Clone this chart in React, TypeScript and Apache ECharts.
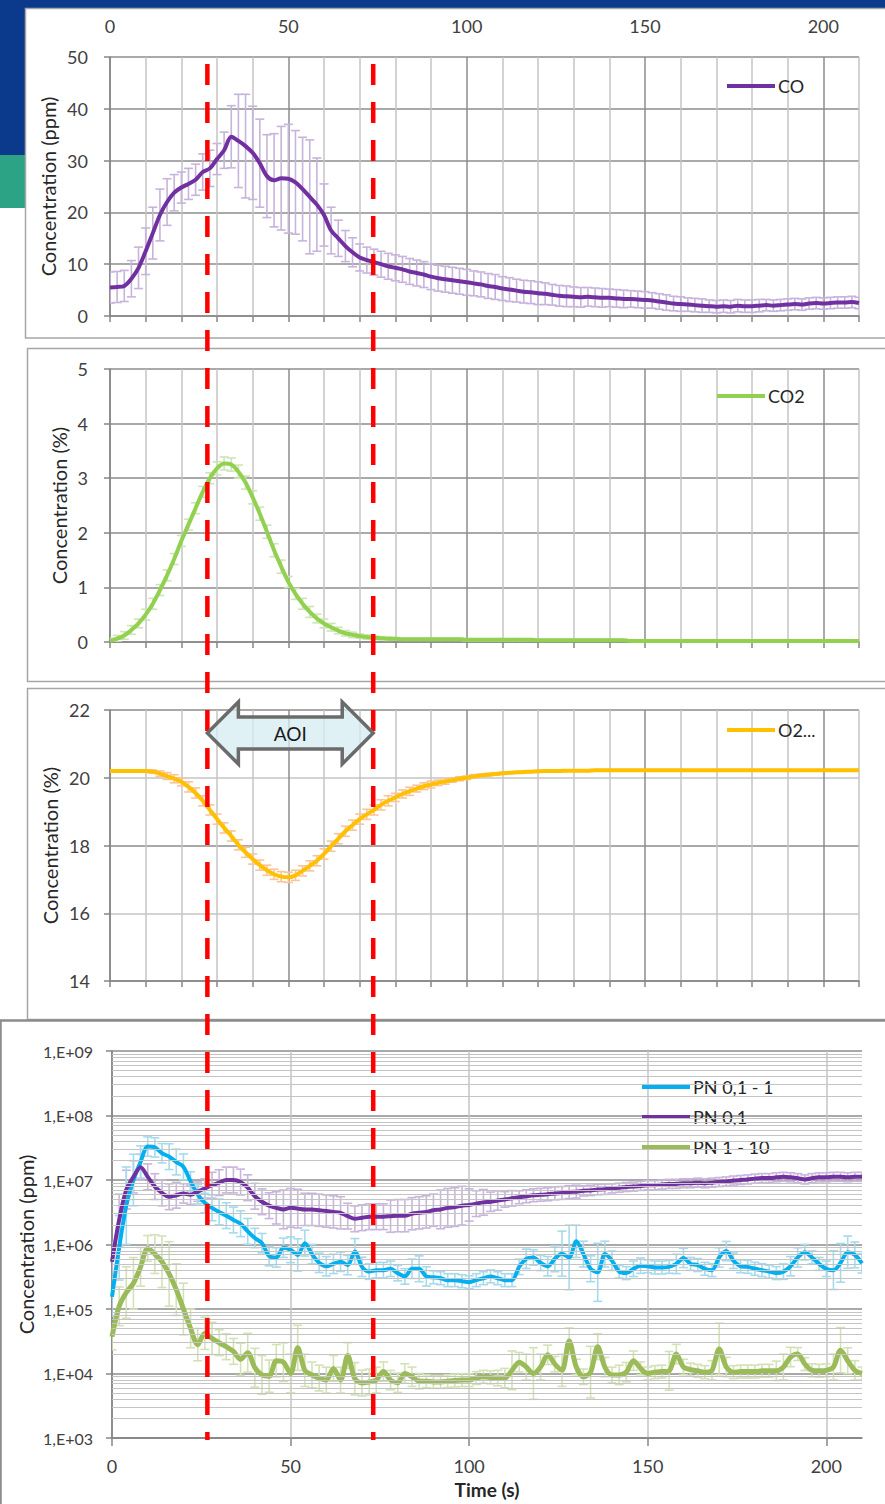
import React, { useEffect, useRef } from "react";
import * as echarts from "echarts";

// sampling: one point every 2 s, 0..210 s
const TIME: number[] = Array.from({ length: 106 }, (_, i) => i * 2);

const CO = [5.5,5.6,5.8,7.2,9.3,12.5,16,19.5,22,23.8,
 24.8,25.5,26.3,27.8,28.5,30.3,32,34.6,33.8,32.8,
 31.5,29.5,27,26.2,26.6,26.5,25.8,24.5,23,21.5,
 19.5,16.5,15,13.5,12.3,11.3,10.8,10.4,10,9.6,
 9.3,9.0,8.6,8.3,8.0,7.6,7.3,7.1,6.9,6.7,
 6.5,6.3,6.1,5.8,5.6,5.3,5.1,4.9,4.7,4.6,
 4.4,4.3,4.1,3.9,3.8,3.7,3.6,3.7,3.6,3.5,
 3.5,3.4,3.3,3.3,3.2,3.1,3.0,2.8,2.6,2.4,
 2.3,2.2,2.1,2.0,1.9,1.8,1.9,1.8,2.0,1.9,
 1.9,2.0,2.1,2.0,2.1,2.2,2.3,2.2,2.4,2.5,
 2.4,2.5,2.6,2.6,2.7,2.5];
const CO_ERR = [3,3,3,3.5,4,4.5,5,5,4.5,3.5,
 3,3,3,3.5,3.5,3,3.5,6,9,10,
 9,8.5,8,9,10,10.5,10,10,11,9,
 6,4.5,3.5,3,2.8,2.6,2.5,2.5,2.5,2.5,
 2.5,2.5,2.5,2.5,2.5,2.5,2.5,2.5,2.5,2.5,
 2.5,2.4,2.4,2.4,2.4,2.3,2.3,2.2,2.2,2.2,
 2.2,2.1,2,2,2,1.9,1.9,1.8,1.8,1.8,
 1.7,1.7,1.7,1.6,1.6,1.6,1.5,1.5,1.5,1.4,
 1.4,1.3,1.3,1.3,1.2,1.2,1.2,1.2,1.2,1.2,
 1.2,1.2,1.1,1.1,1.1,1.1,1.1,1.1,1.1,1.1,
 1.1,1.1,1.1,1.1,1.1,1.1];

const CO2 = [0.02,0.06,0.12,0.22,0.34,0.5,0.7,0.95,1.22,1.52,
 1.85,2.15,2.45,2.75,3.0,3.18,3.27,3.25,3.12,2.92,
 2.65,2.35,2.02,1.68,1.38,1.1,0.88,0.7,0.55,0.43,
 0.34,0.27,0.21,0.16,0.13,0.11,0.09,0.08,0.07,0.06,
 0.06,0.05,0.05,0.05,0.05,0.05,0.05,0.05,0.05,0.05,
 0.04,0.04,0.04,0.04,0.04,0.04,0.04,0.04,0.04,0.04,
 0.03,0.03,0.03,0.03,0.03,0.03,0.03,0.03,0.03,0.03,
 0.03,0.03,0.03,0.02,0.02,0.02,0.02,0.02,0.02,0.02,
 0.02,0.02,0.02,0.02,0.02,0.02,0.02,0.02,0.02,0.02,
 0.02,0.02,0.02,0.02,0.02,0.02,0.02,0.02,0.02,0.02,
 0.02,0.02,0.02,0.02,0.02,0.02];
const CO2_ERR = [0.05,0.06,0.07,0.08,0.08,0.1,0.1,0.1,0.1,0.1,
 0.1,0.1,0.1,0.1,0.1,0.12,0.12,0.12,0.12,0.12,
 0.12,0.12,0.12,0.12,0.12,0.1,0.1,0.1,0.1,0.08,
 0.08,0.07,0.06,0.05,0.05,0.04,0.04,0.03,0.03,0.03,
 0.02,0.02,0.02,0.02,0.02,0.02,0.02,0.02,0.02,0.02,
 0.02,0.02,0.02,0.02,0.02,0.02,0.02,0.02,0.02,0.02,
 0.02,0.02,0.02,0.02,0.02,0.02,0.02,0.02,0.02,0.02,
 0.02,0.02,0.02,0.02,0.02,0.02,0.02,0.02,0.02,0.02,
 0.02,0.02,0.02,0.02,0.02,0.02,0.02,0.02,0.02,0.02,
 0.02,0.02,0.02,0.02,0.02,0.02,0.02,0.02,0.02,0.02,
 0.02,0.02,0.02,0.02,0.02,0.02];

const O2 = [20.2,20.2,20.2,20.2,20.2,20.2,20.18,20.12,20.05,19.97,
 19.88,19.73,19.55,19.32,19.05,18.78,18.52,18.28,18.02,17.8,
 17.6,17.42,17.27,17.15,17.08,17.06,17.12,17.25,17.4,17.55,
 17.75,17.98,18.2,18.42,18.6,18.78,18.92,19.05,19.2,19.32,
 19.42,19.52,19.6,19.68,19.75,19.8,19.85,19.89,19.93,19.97,
 20.0,20.04,20.07,20.09,20.11,20.13,20.15,20.16,20.17,20.18,
 20.19,20.2,20.2,20.2,20.21,20.21,20.21,20.21,20.22,20.22,
 20.22,20.22,20.22,20.22,20.22,20.22,20.22,20.22,20.22,20.22,
 20.22,20.22,20.22,20.22,20.22,20.22,20.22,20.22,20.22,20.22,
 20.22,20.22,20.22,20.22,20.22,20.22,20.22,20.22,20.22,20.22,
 20.22,20.22,20.22,20.22,20.22,20.22];
const O2_ERR = [0,0,0,0,0,0.02,0.05,0.08,0.1,0.12,
 0.12,0.15,0.15,0.15,0.15,0.15,0.15,0.15,0.15,0.15,
 0.15,0.15,0.15,0.15,0.15,0.15,0.15,0.15,0.15,0.15,
 0.15,0.15,0.15,0.15,0.15,0.15,0.15,0.15,0.15,0.15,
 0.12,0.12,0.12,0.1,0.1,0.1,0.08,0.08,0.06,0.06,
 0.05,0.05,0.04,0.04,0.03,0.03,0.02,0.02,0.02,0.02,
 0.02,0.02,0.02,0.02,0.02,0.02,0.02,0.02,0.02,0.02,
 0.02,0.02,0.02,0.02,0.02,0.02,0.02,0.02,0.02,0.02,
 0.02,0.02,0.02,0.02,0.02,0.02,0.02,0.02,0.02,0.02,
 0.02,0.02,0.02,0.02,0.02,0.02,0.02,0.02,0.02,0.02,
 0.02,0.02,0.02,0.02,0.02,0.02];

// particle number series (errors in decades, symmetric in log space)
const PN_01_1 = [1.55e5,8.9e5,4.0e6,1.0e7,1.9e7,3.3e7,3.2e7,2.6e7,2.3e7,1.9e7,
 1.6e7,9.5e6,6.0e6,4.4e6,3.7e6,3.2e6,2.8e6,2.4e6,2.1e6,1.6e6,
 1.26e6,1.05e6,6.6e5,6.3e5,8.9e5,8.3e5,6.9e5,1.05e6,7.1e5,5.2e5,
 4.6e5,5.0e5,5.4e5,4.8e5,7.8e5,4.5e5,3.8e5,4.0e5,4.0e5,4.2e5,
 3.6e5,3.2e5,4.2e5,4.2e5,3.2e5,3.1e5,3.0e5,2.8e5,2.8e5,2.7e5,
 2.6e5,2.8e5,3.0e5,3.2e5,3.0e5,2.8e5,2.8e5,4.5e5,6.0e5,6.3e5,
 5.2e5,4.6e5,6.0e5,7.2e5,6.3e5,1.12e6,7.1e5,4.2e5,3.7e5,7.1e5,
 5.6e5,3.8e5,3.6e5,4.2e5,4.7e5,4.6e5,4.4e5,4.4e5,4.5e5,5.0e5,
 6.2e5,5.0e5,4.8e5,4.2e5,4.0e5,6.3e5,7.9e5,5.6e5,4.6e5,4.5e5,
 4.2e5,4.0e5,3.8e5,3.6e5,3.8e5,4.6e5,6.3e5,7.6e5,6.3e5,5.0e5,
 4.2e5,4.0e5,5.2e5,7.6e5,6.9e5,5.1e5];
const PN_01_1_ERR = [0.3,0.5,0.6,0.4,0.25,0.15,0.15,0.15,0.2,0.2,
 0.2,0.15,0.15,0.15,0.2,0.2,0.2,0.2,0.2,0.2,
 0.15,0.15,0.15,0.15,0.15,0.2,0.25,0.2,0.15,0.15,
 0.15,0.15,0.15,0.15,0.2,0.15,0.12,0.12,0.12,0.12,
 0.12,0.12,0.15,0.2,0.15,0.1,0.1,0.1,0.1,0.1,
 0.1,0.1,0.1,0.1,0.1,0.1,0.1,0.12,0.15,0.12,
 0.12,0.15,0.2,0.35,0.5,0.25,0.2,0.2,0.45,0.2,
 0.15,0.1,0.1,0.12,0.12,0.1,0.1,0.1,0.1,0.15,
 0.15,0.1,0.1,0.1,0.1,0.15,0.15,0.12,0.1,0.1,
 0.1,0.1,0.1,0.1,0.12,0.15,0.15,0.12,0.1,0.1,
 0.12,0.3,0.3,0.25,0.2,0.15];

const PN_01 = [5.4e5,2.4e6,7.1e6,1.12e7,1.58e7,1.12e7,7.9e6,6.3e6,5.5e6,5.8e6,
 6.2e6,5.9e6,6.6e6,7.4e6,8.3e6,9.1e6,1.0e7,1.0e7,9.3e6,7.6e6,
 5.6e6,4.6e6,4.0e6,3.7e6,3.5e6,3.7e6,3.6e6,3.5e6,3.5e6,3.4e6,
 3.3e6,3.2e6,3.1e6,2.75e6,2.5e6,2.6e6,2.7e6,2.7e6,2.7e6,2.75e6,
 2.8e6,2.8e6,3.0e6,3.1e6,3.2e6,3.4e6,3.5e6,3.7e6,3.8e6,4.0e6,
 4.1e6,4.3e6,4.5e6,4.6e6,4.8e6,5.0e6,5.2e6,5.4e6,5.6e6,5.8e6,
 5.9e6,6.0e6,6.2e6,6.3e6,6.5e6,6.6e6,6.8e6,6.9e6,7.1e6,7.2e6,
 7.4e6,7.6e6,7.8e6,7.9e6,8.1e6,8.3e6,8.3e6,8.5e6,8.7e6,8.7e6,
 8.9e6,8.9e6,9.1e6,8.9e6,9.1e6,9.3e6,9.5e6,9.8e6,1.0e7,1.02e7,
 1.05e7,1.07e7,1.07e7,1.1e7,1.12e7,1.1e7,1.07e7,1.02e7,1.07e7,1.1e7,
 1.1e7,1.12e7,1.12e7,1.1e7,1.12e7,1.12e7];
const PN_01_ERR = [0.3,0.4,0.3,0.25,0.2,0.2,0.2,0.2,0.2,0.2,
 0.15,0.15,0.15,0.15,0.2,0.2,0.2,0.2,0.2,0.2,
 0.2,0.2,0.2,0.25,0.3,0.3,0.3,0.25,0.25,0.25,
 0.25,0.25,0.25,0.2,0.2,0.2,0.2,0.2,0.2,0.25,
 0.25,0.25,0.25,0.25,0.25,0.25,0.3,0.3,0.3,0.3,
 0.25,0.2,0.2,0.15,0.15,0.12,0.12,0.1,0.1,0.1,
 0.1,0.1,0.1,0.1,0.1,0.1,0.08,0.08,0.08,0.08,
 0.07,0.07,0.07,0.07,0.07,0.07,0.07,0.07,0.07,0.07,
 0.07,0.07,0.07,0.07,0.07,0.07,0.07,0.07,0.07,0.07,
 0.07,0.07,0.07,0.07,0.07,0.07,0.07,0.07,0.07,0.07,
 0.07,0.07,0.07,0.07,0.07,0.07];

const PN_1_10 = [3.7e4,1.1e5,1.8e5,2.5e5,4.5e5,8.7e5,7.1e5,5.4e5,3.5e5,2.0e5,
 1.0e5,5.0e4,2.8e4,4.2e4,3.5e4,3.0e4,2.6e4,2.2e4,1.66e4,2.1e4,
 1.23e4,9.5e3,9.1e3,1.58e4,1.5e4,1.0e4,2.5e4,1.12e4,9.5e3,8.5e3,
 7.9e3,1.2e4,7.9e3,1.9e4,8.3e3,7.1e3,7.4e3,7.9e3,1.07e4,7.9e3,
 7.2e3,1.0e4,8.9e3,7.6e3,7.6e3,7.4e3,7.4e3,7.6e3,7.8e3,7.9e3,
 7.9e3,8.5e3,8.9e3,8.7e3,8.5e3,8.5e3,1.12e4,1.5e4,1.26e4,1.0e4,
 1.26e4,1.95e4,1.4e4,1.12e4,3.2e4,1.26e4,8.9e3,1.05e4,2.6e4,1.26e4,
 9.5e3,9.5e3,1.05e4,1.58e4,1.2e4,1.0e4,1.05e4,1.07e4,1.1e4,2.0e4,
 1.26e4,1.15e4,1.1e4,1.05e4,1.12e4,2.4e4,1.26e4,1.05e4,1.07e4,1.07e4,
 1.07e4,1.1e4,1.1e4,1.1e4,1.26e4,1.8e4,2.0e4,1.4e4,1.12e4,1.1e4,
 1.12e4,1.26e4,2.3e4,1.58e4,1.12e4,1.0e4];
const PN_1_10_ERR = [0.2,0.3,0.4,0.4,0.3,0.2,0.3,0.4,0.5,0.4,
 0.4,0.3,0.25,0.25,0.25,0.2,0.2,0.2,0.25,0.3,
 0.3,0.3,0.25,0.25,0.3,0.3,0.35,0.25,0.2,0.2,
 0.2,0.2,0.2,0.2,0.25,0.2,0.2,0.2,0.15,0.15,
 0.15,0.15,0.15,0.12,0.1,0.1,0.1,0.1,0.1,0.1,
 0.1,0.1,0.1,0.1,0.12,0.15,0.3,0.15,0.2,0.4,
 0.2,0.15,0.12,0.25,0.2,0.12,0.12,0.4,0.2,0.15,
 0.12,0.15,0.15,0.15,0.1,0.1,0.1,0.1,0.3,0.15,
 0.12,0.1,0.1,0.1,0.15,0.4,0.15,0.1,0.1,0.1,
 0.1,0.1,0.1,0.15,0.2,0.15,0.1,0.1,0.1,0.1,
 0.1,0.2,0.35,0.2,0.15,0.1];

const X_TICK_LABELS = [0, 50, 100, 150, 200];
const LOG_DECADES = [1e3, 1e4, 1e5, 1e6, 1e7, 1e8];
const LOG_MINOR_STEPS = [2, 3, 4, 5, 6, 7, 8, 9];
const AOI_START = 27.3;
const AOI_END = 73.8;

const FONT = 'Lato, "Liberation Sans", sans-serif';
const TXT = "#404040";
const AXIS = "#868686";
const VGRID = ["#8c8c8c", "#c4c4c4", "#c4c4c4", "#c4c4c4", "#c4c4c4"];

function linErr(vals: number[], errs: number[]) {
  return TIME.map((t, i) => [t, vals[i] - errs[i], vals[i] + errs[i]]);
}
function logErr(vals: number[], errs: number[]) {
  return TIME.map((t, i) => [t, vals[i] / Math.pow(10, errs[i]), vals[i] * Math.pow(10, errs[i])]);
}
function pts(vals: number[]) {
  return TIME.map((t, i) => [t, vals[i]]);
}

function errSeries(xi: number, yi: number, data: number[][], color: string) {
  return {
    type: "custom",
    xAxisIndex: xi,
    yAxisIndex: yi,
    silent: true,
    clip: true,
    z: 1,
    data,
    encode: { x: 0, y: [1, 2] },
    renderItem: (params: any, api: any) => {
      const t = api.value(0);
      const p1 = api.coord([t, api.value(1)]);
      const p2 = api.coord([t, api.value(2)]);
      const w = 4.5;
      const st = { stroke: color, lineWidth: 1.6 };
      return {
        type: "group",
        children: [
          { type: "line", shape: { x1: p1[0], y1: p1[1], x2: p2[0], y2: p2[1] }, style: st },
          { type: "line", shape: { x1: p1[0] - w, y1: p1[1], x2: p1[0] + w, y2: p1[1] }, style: st },
          { type: "line", shape: { x1: p2[0] - w, y1: p2[1], x2: p2[0] + w, y2: p2[1] }, style: st },
        ],
      };
    },
  };
}

function lineSeries(name: string, xi: number, yi: number, vals: number[], color: string, width = 4) {
  return {
    type: "line",
    name,
    xAxisIndex: xi,
    yAxisIndex: yi,
    data: pts(vals),
    symbol: "none",
    smooth: 0.3,
    clip: true,
    z: 3,
    color,
    lineStyle: { color, width },
  };
}

function xAxisBase(gridIndex: number, extra: any = {}) {
  return {
    type: "value",
    gridIndex,
    min: 0,
    max: 210,
    interval: 10,
    axisLine: { show: true, onZero: false, lineStyle: { color: AXIS, width: 1.5 } },
    axisTick: { show: true, length: 6, lineStyle: { color: AXIS, width: 1.5 } },
    axisLabel: { show: false },
    splitLine: { show: true, lineStyle: { color: VGRID, width: 1.5 } },
    ...extra,
  };
}

function yAxisBase(gridIndex: number, name: string, nameGap: number, extra: any = {}) {
  return {
    type: "value",
    gridIndex,
    name,
    nameLocation: "middle",
    nameGap,
    nameRotate: 90,
    nameMoveOverlap: false,
    nameTextStyle: { fontSize: 20, color: "#262626", fontFamily: FONT },
    axisLine: { show: true, lineStyle: { color: AXIS, width: 1.5 } },
    axisTick: { show: true, length: 6, lineStyle: { color: AXIS, width: 1.5 } },
    axisLabel: { fontSize: 18, color: TXT, margin: 22, fontFamily: FONT },
    splitLine: { show: true, lineStyle: { color: "#8c8c8c", width: 1.5 } },
    ...extra,
  };
}

function legendAt(left: number, top: number, data: string[], extra: any = {}) {
  return {
    left,
    top,
    data,
    orient: "vertical",
    icon: "rect",
    itemWidth: 48,
    itemHeight: 4,
    itemGap: 12,
    padding: 0,
    selectedMode: false,
    textStyle: { fontSize: 18, color: "#262626", fontFamily: FONT, padding: [0, 0, 0, -2] },
    ...extra,
  };
}

export default function App() {
  const ref = useRef<HTMLDivElement>(null);
  useEffect(() => {
    if (!ref.current) return;
    const chart = echarts.init(ref.current, undefined, { renderer: "svg" });
    const minorLog: number[] = [];
    LOG_DECADES.forEach((d) => LOG_MINOR_STEPS.forEach((m) => minorLog.push(d * m)));

    chart.setOption({
      animation: false,
      textStyle: { fontFamily: FONT },
      grid: [
        { left: 110, top: 57, width: 749, height: 259, outerBoundsMode: "none" },
        { left: 110, top: 369, width: 749, height: 273, outerBoundsMode: "none" },
        { left: 110, top: 710, width: 749, height: 271, outerBoundsMode: "none" },
        { left: 112, top: 1051, width: 750, height: 387, outerBoundsMode: "none" },
      ],
      xAxis: [
        xAxisBase(0),
        xAxisBase(0, {
          position: "top",
          axisLine: { show: false },
          axisTick: { show: false },
          splitLine: { show: false },
          axisLabel: {
            show: true,
            customValues: X_TICK_LABELS,
            fontSize: 18,
            color: TXT,
            margin: 22,
            fontFamily: FONT,
          },
        }),
        xAxisBase(1),
        xAxisBase(2),
        xAxisBase(3, {
          axisTick: { show: true, length: 8, customValues: X_TICK_LABELS, lineStyle: { color: AXIS, width: 1.5 } },
          axisLabel: { show: true, customValues: X_TICK_LABELS, fontSize: 18, color: TXT, margin: 19, fontFamily: FONT },
          name: "Time (s)",
          nameLocation: "middle",
          nameGap: 42,
          nameMoveOverlap: false,
          nameTextStyle: { fontSize: 19, fontWeight: "bold", color: "#262626", fontFamily: FONT },
        }),
      ],
      yAxis: [
        yAxisBase(0, "Concentration (ppm)", 52, { min: 0, max: 50, interval: 10 }),
        yAxisBase(1, "Concentration (%)", 41, { min: 0, max: 5, interval: 1 }),
        yAxisBase(2, "Concentration (%)", 50, {
          min: 14,
          max: 22,
          interval: 1,
          axisLabel: { fontSize: 18, color: TXT, margin: 20, fontFamily: FONT, customValues: [14, 16, 18, 20, 22] },
          axisTick: { show: true, length: 6, customValues: [14, 16, 18, 20, 22], lineStyle: { color: AXIS, width: 1.5 } },
          splitLine: { show: true, lineStyle: { color: ["#8c8c8c", "#c4c4c4"], width: 1.5 } },
        }),
        yAxisBase(3, "Concentration (ppm)", 76, {
          type: "log",
          logBase: 10,
          min: 1e3,
          max: 1e9,
          axisLabel: {
            fontSize: 16,
            color: TXT,
            margin: 19,
            fontFamily: FONT,
            formatter: (v: number) => "1,E+" + String(Math.round(Math.log10(v))).padStart(2, "0"),
          },
        }),
      ],
      legend: [
        legendAt(727, 77, ["CO"]),
        legendAt(717, 387, ["CO2"]),
        legendAt(727, 721, ["O2"], { formatter: (n: string) => n + "..." }),
        legendAt(642, 1078, ["PN 0,1 - 1", "PN 0,1", "PN 1 - 10"]),
      ],
      series: [
        errSeries(0, 0, linErr(CO, CO_ERR), "#c7b3dc"),
        lineSeries("CO", 0, 0, CO, "#7030a0"),
        errSeries(2, 1, linErr(CO2, CO2_ERR), "#cde5b6"),
        lineSeries("CO2", 2, 1, CO2, "#92d050"),
        errSeries(3, 2, linErr(O2, O2_ERR), "#f9c49c"),
        lineSeries("O2", 3, 2, O2, "#ffc000"),
        {
          type: "line",
          xAxisIndex: 4,
          yAxisIndex: 3,
          data: [],
          silent: true,
          z: 0,
          markLine: {
            silent: true,
            symbol: "none",
            label: { show: false },
            lineStyle: { color: "#c4c4c4", width: 1, type: "solid" },
            data: minorLog.map((v) => ({ yAxis: v })),
          },
        },
        errSeries(4, 3, logErr(PN_01, PN_01_ERR), "#c9b5dd"),
        errSeries(4, 3, logErr(PN_01_1, PN_01_1_ERR), "#a6daed"),
        errSeries(4, 3, logErr(PN_1_10, PN_1_10_ERR), "#d3e2b6"),
        lineSeries("PN 0,1 - 1", 4, 3, PN_01_1, "#00b0f0"),
        lineSeries("PN 0,1", 4, 3, PN_01, "#7030a0"),
        lineSeries("PN 1 - 10", 4, 3, PN_1_10, "#9bbb59", 5),
      ],
    });

    const xL = chart.convertToPixel({ xAxisIndex: 0 } as any, AOI_START) as number;
    const xR = chart.convertToPixel({ xAxisIndex: 0 } as any, AOI_END) as number;
    const yTop = (chart.convertToPixel({ yAxisIndex: 0 } as any, 50) as number) + 7;
    const yBot = (chart.convertToPixel({ yAxisIndex: 3 } as any, 1e3) as number) + 2;
    const yc = 733;
    const head = 31;
    const half = 31;
    const shaft = 16;
    const arrowPts = [
      [xL, yc],
      [xL + head, yc - half],
      [xL + head, yc - shaft],
      [xR - head, yc - shaft],
      [xR - head, yc - half],
      [xR, yc],
      [xR - head, yc + half],
      [xR - head, yc + shaft],
      [xL + head, yc + shaft],
      [xL + head, yc + half],
    ];
    const frame = (x: number, y: number, w: number, h: number, lw = 1.5, stroke = "#a6a6a6") => ({
      type: "rect",
      z: -10,
      shape: { x, y, width: w, height: h },
      style: { fill: "#ffffff", stroke, lineWidth: lw },
      silent: true,
    });

    chart.setOption({
      graphic: [
        { type: "rect", z: -20, shape: { x: 0, y: 0, width: 885, height: 9 }, style: { fill: "#0b3a8c" }, silent: true },
        { type: "rect", z: -20, shape: { x: 0, y: 0, width: 26, height: 155 }, style: { fill: "#0b3a8c" }, silent: true },
        { type: "rect", z: -20, shape: { x: 0, y: 155, width: 26, height: 53 }, style: { fill: "#2ca385" }, silent: true },
        frame(25.5, 8.5, 875, 329.5),
        frame(27.5, 348.5, 875, 333),
        frame(27.5, 688.5, 875, 331),
        frame(0.5, 1020.5, 895, 495, 2.5, "#8c8c8c"),
        {
          type: "line",
          z: 50,
          silent: true,
          shape: { x1: xL, y1: yTop, x2: xL, y2: yBot },
          style: { stroke: "#ff0000", lineWidth: 4.5, lineDash: [21, 17] },
        },
        {
          type: "line",
          z: 50,
          silent: true,
          shape: { x1: xR, y1: yTop, x2: xR, y2: yBot },
          style: { stroke: "#ff0000", lineWidth: 4.5, lineDash: [21, 17] },
        },
        {
          type: "polygon",
          z: 60,
          silent: true,
          shape: { points: arrowPts },
          style: { fill: "rgba(214,236,241,0.75)", stroke: "#6b6b6b", lineWidth: 3.5, lineJoin: "miter" },
        },
        {
          type: "text",
          z: 61,
          silent: true,
          x: (xL + xR) / 2,
          y: yc,
          style: { text: "AOI", fontSize: 19, fontFamily: FONT, fill: "#1a1a1a", align: "center", verticalAlign: "middle" },
        },
      ],
    });

    return () => chart.dispose();
  }, []);
  return <div ref={ref} style={{ position: "absolute", left: 0, top: 0, width: 885, height: 1504 }} />;
}
